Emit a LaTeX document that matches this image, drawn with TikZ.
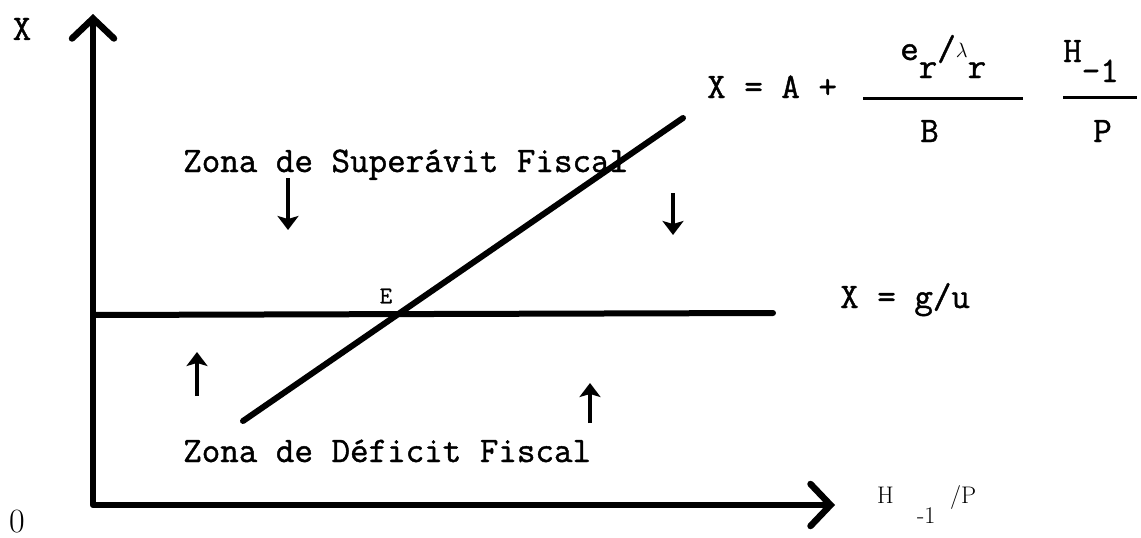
\documentclass[tikz,border=0pt]{standalone}
\usepackage{fontspec}
\setmonofont{Latin Modern Mono}[FakeBold=1.2]
\usetikzlibrary{arrows.meta}

\begin{document}
\begin{tikzpicture}[x=1pt,y=-1pt,
  every node/.style={font=\ttfamily\fontsize{36}{40}\selectfont,inner sep=0pt},
  small/.style={font=\ttfamily\fontsize{24}{26}\selectfont},
  plain/.style={font=\rmfamily\fontsize{24}{28}\selectfont},
  axis/.style={line width=6.5pt,line join=round,line cap=round,
    {Straight Barb[length=20pt,width=42pt,line cap=round]}-{Straight Barb[length=20pt,width=42pt,line cap=round]}},
  curve/.style={line width=6pt,line cap=round},
  dir/.style={line width=4pt,-{Stealth[length=14pt,width=21pt,inset=3pt]}},
  bar/.style={line width=3pt}
]
\useasboundingbox (0,0) rectangle (1141,538);

% axes
\coordinate (O) at (93,505);
\coordinate (ytop) at (93,14);
\coordinate (xend) at (835,505);
\draw[axis] (ytop) -- (O) -- (xend);
\node (ylab) at (22,29) {X};
\node[font=\rmfamily\fontsize{34}{40}\selectfont] (zero) at (17,522) {0};
\node[plain,anchor=base west] (xlabH) at (877,503) {H};
\node[plain,anchor=base west] (xlabm) at (917,523) {-1};
\node[plain,anchor=base west] (xlabP) at (950,503) {/P};

% the two lines
\coordinate (gl) at (93,315);
\coordinate (gr) at (773,313);
\coordinate (dl) at (243,421);
\coordinate (dr) at (683,118);
\draw[curve] (gl) -- (gr);
\draw[curve] (dl) -- (dr);
\node[small] (E) at (386,296) {E};
\node[anchor=base west] (glab) at (840,308) {X = g/u};

% equation of the sloped line
\node[anchor=base west] (eqlhs) at (707,98) {X = A +};
\node[anchor=base west] (num) at (900,60) {e\raisebox{-18pt}{r}/\raisebox{3pt}{\fontsize{22}{24}\selectfont$\lambda$}\raisebox{-18pt}{r}};
\draw[bar] (863,98) -- (1023,98);
\node[anchor=base west] (den) at (920,142) {B};
\node[anchor=base west] (hnum) at (1063,62) {H\raisebox{-20pt}{-1}};
\draw[bar] (1063,97) -- (1137,97);
\node[anchor=base west] (hden) at (1093,142) {P};

% zones
\node[anchor=base west] (sup) at (183,172) {Zona de Superávit Fiscal};
\node[anchor=base west] (def) at (183,462) {Zona de Déficit Fiscal};
\coordinate (a1s) at (288,178);
\coordinate (a1e) at (288,230);
\coordinate (a2s) at (673,193);
\coordinate (a2e) at (673,235);
\coordinate (a3s) at (197,396);
\coordinate (a3e) at (197,352);
\coordinate (a4s) at (590,423);
\coordinate (a4e) at (590,383);
\draw[dir] (a1s) -- (a1e);
\draw[dir] (a2s) -- (a2e);
\draw[dir] (a3s) -- (a3e);
\draw[dir] (a4s) -- (a4e);
\end{tikzpicture}
\end{document}
